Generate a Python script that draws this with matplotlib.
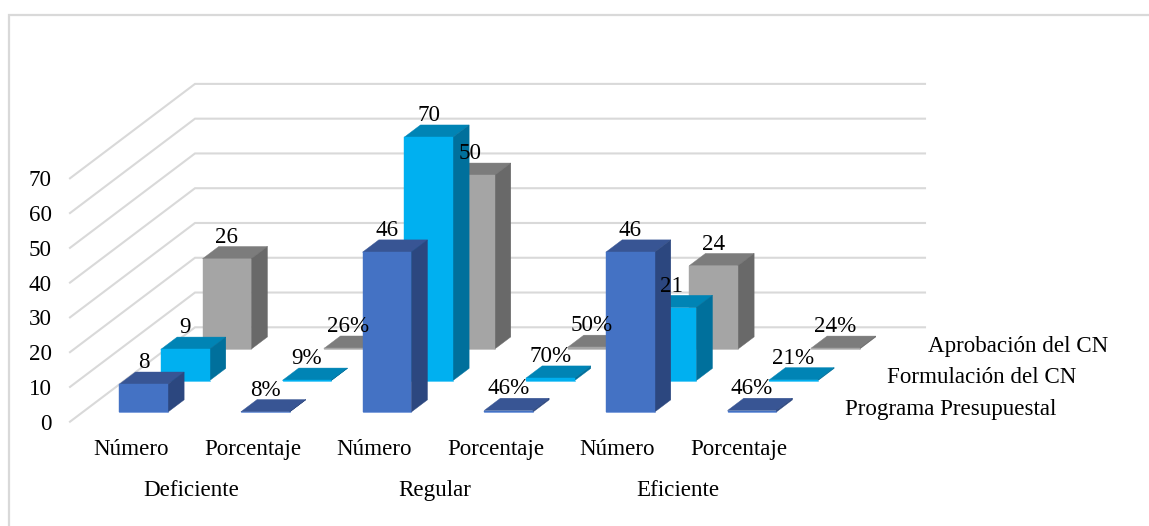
import matplotlib
matplotlib.use("Agg")
import matplotlib.pyplot as plt
from matplotlib.lines import Line2D
from matplotlib.patches import Polygon

plt.rcParams["font.family"] = ["Liberation Serif", "DejaVu Serif"]

# Survey results, back series first
groups = ["Deficiente", "Regular", "Eficiente"]
measures = ["Número", "Porcentaje"] * 3
series_names = ["Programa Presupuestal", "Formulación del CN", "Aprobación del CN"]
programa = [8, 0.08, 46, 0.46, 46, 0.46]
formulacion = [9, 0.09, 70, 0.70, 21, 0.21]
aprobacion = [26, 0.26, 50, 0.50, 24, 0.24]
series_values = [programa, formulacion, aprobacion]
y_ticks = [0, 10, 20, 30, 40, 50, 60, 70]

# front, top and side shades of each series
face_colors = ["#4472C4", "#00B0F0", "#A5A5A5"]
top_colors = ["#385594", "#0084B5", "#7C7C7C"]
side_colors = ["#2C477F", "#00709C", "#696969"]
edge_colors = ["#5B86D4", "#2CC0F5", "#B5B5B5"]

W, H = 1149, 526
FS = 16.6
fig = plt.figure(figsize=(W / 100, H / 100), dpi=100)
fig.patch.set_facecolor("white")

# The axes is the front plane of the oblique box
ax = fig.add_axes([70 / W, (H - 421.7) / H, 730 / W, 243.4 / H])
ax.set_xlim(0, 6)
ax.set_ylim(0, 70)
ax.patch.set_visible(False)
for spine in ax.spines.values():
    spine.set_visible(False)

# Oblique shear per unit of series depth, in data units
SHEAR_X = 125 / 3 / (730 / 6)
SHEAR_Y = 94.4 / 3 / (243.4 / 70)
BAR_W = 0.4
BAR_D = 0.39
GRID = "#D9D9D9"


def project(x, value, depth):
    return x + depth * SHEAR_X, value + depth * SHEAR_Y


# Walls: side wall diagonals and back wall lines, with the floor edge at zero
for tick in y_ticks:
    xs, ys = zip(project(0, tick, 0), project(0, tick, 3), project(6, tick, 3))
    ax.plot(xs, ys, color=GRID, lw=1.5, clip_on=False, zorder=1,
            solid_joinstyle="miter")

# Bars from the back series to the front one
for s in (2, 1, 0):
    zorder = 2 + (2 - s)
    z0 = s + 0.5 - BAR_D / 2
    z1 = s + 0.5 + BAR_D / 2
    for i, value in enumerate(series_values[s]):
        x0, x1 = i + 0.5 - BAR_W / 2, i + 0.5 + BAR_W / 2
        faces = [
            ([(x0, value, z0), (x1, value, z0), (x1, value, z1), (x0, value, z1)], top_colors[s]),
            ([(x1, 0, z0), (x1, 0, z1), (x1, value, z1), (x1, value, z0)], side_colors[s]),
            ([(x0, 0, z0), (x1, 0, z0), (x1, value, z0), (x0, value, z0)], face_colors[s]),
        ]
        for corners, color in faces:
            ax.add_patch(Polygon([project(*c) for c in corners], closed=True,
                                 facecolor=color, edgecolor=color, lw=0.3,
                                 clip_on=False, zorder=zorder))
        # thin lighter rim along the foot of the front face
        fx, fy = zip(project(x0, 0, z0), project(x1, 0, z0))
        ax.plot(fx, fy, color=edge_colors[s], lw=0.5, clip_on=False, zorder=zorder)

# Value labels above the front edge of every bar
for s in (2, 1, 0):
    z0 = s + 0.5 - BAR_D / 2
    for i, value in enumerate(series_values[s]):
        text = f"{value * 100:.0f}%" if value < 1 else f"{value:g}"
        ax.annotate(text, project(i + 0.5, value, z0), xytext=(0, 15.5),
                    textcoords="offset points", ha="center", va="center",
                    fontsize=FS, color="black", zorder=10, annotation_clip=False)

# Value axis
ax.set_yticks(y_ticks)
ax.tick_params(axis="y", length=0, pad=13, labelsize=FS)

# Two level category axis
ax.set_xticks([i + 0.5 for i in range(len(measures))])
ax.set_xticklabels(measures, fontsize=FS)
ax.tick_params(axis="x", length=0, pad=12.5)
for g, name in enumerate(groups):
    ax.annotate(name, (2 * g + 1, 0), xytext=(0, -49.5), textcoords="offset points",
                ha="center", va="center", fontsize=FS, annotation_clip=False)

# Series names along the depth axis
for s, name in enumerate(series_names):
    ax.annotate(name, project(6, 0, s + 0.5), xytext=(17.3, -2.5),
                textcoords="offset points", ha="left", va="center",
                fontsize=FS, annotation_clip=False)

# Chart frame: only the left and top edges fall inside the canvas
fx = 9 / W
fy = 1 - 14.5 / H
fig.add_artist(Line2D([fx, fx, 1], [0, fy, fy], transform=fig.transFigure,
                      color=GRID, lw=1.6, solid_joinstyle="miter"))

fig.savefig("out.png", dpi=100, facecolor="white")
